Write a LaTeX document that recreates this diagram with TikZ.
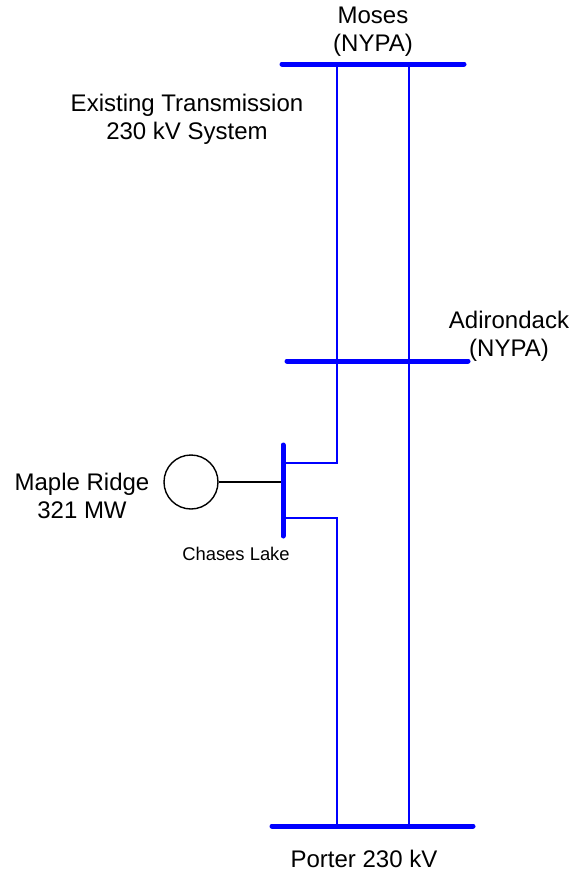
\documentclass[tikz,border=0pt]{standalone}
\usepackage{fontspec}
\setmainfont{Liberation Sans}
\usetikzlibrary{positioning}
\definecolor{buscolor}{rgb}{0, 0, 1}
\tikzset{
	bus/.style={
		draw=buscolor,
		line width=2.5pt,
		line cap=round
	},
	feeder/.style={
		draw=buscolor,
		line width=1.2pt
	},
	tie/.style={
		draw=black,
		line width=0.7pt
	},
	gen/.style={
		circle,
		draw=black,
		line width=0.7pt,
		minimum size=27pt,
		inner sep=0pt
	},
	busname/.style={
		font=\fontsize{12}{14}\selectfont,
		align=center,
		inner sep=0pt
	},
	smallname/.style={
		font=\fontsize{9.2}{11}\selectfont,
		inner sep=0pt
	},
}

\begin{document}
\begin{tikzpicture}[x=0.5pt,y=-0.5pt]
		\useasboundingbox (0,0) rectangle (580,873);
		% buses
		\coordinate (mosesW) at (282,64);
		\coordinate (mosesE) at (464,64);
		\coordinate (adkW) at (287,361);
		\coordinate (adkE) at (468,361);
		\coordinate (porterW) at (272,826);
		\coordinate (porterE) at (473,826);
		\coordinate (chasesN) at (283,445);
		\coordinate (chasesS) at (283,536);
		% feeder taps
		\coordinate (moses1) at (337,64);
		\coordinate (moses2) at (409,64);
		\coordinate (chases1) at (283,463);
		\coordinate (chases2) at (283,518);
		\coordinate (chasesG) at (283,482);
		\coordinate (porter1) at (337,826);
		\coordinate (porter2) at (409,826);
		\node (maple) [gen] at (191,482) {};
		
		\node (mosesname) [busname] at (373,32) {Moses\\(NYPA)};
		\node (systemname) [busname] at (187,119) {Existing Transmission\\230 kV System};
		\node (adkname) [busname] at (509,336) {Adirondack\\(NYPA)};
		\node (maplename) [busname] at (82,496) {Maple Ridge\\321 MW};
		\node (chasesname) [smallname] at (236,554) {Chases Lake};
		\node (portername) [busname] at (364,859) {Porter 230 kV};
		
		\draw [feeder] (moses1) |- (chases1);
		\draw [feeder] (chases2) -| (porter1);
		\draw [feeder] (moses2) -- (porter2);
		\draw [tie] (maple) -- (chasesG);
		
		\draw [bus] (mosesW) -- (mosesE);
		\draw [bus] (adkW) -- (adkE);
		\draw [bus] (porterW) -- (porterE);
		\draw [bus] (chasesN) -- (chasesS);
		
		\end{tikzpicture}
\end{document}
